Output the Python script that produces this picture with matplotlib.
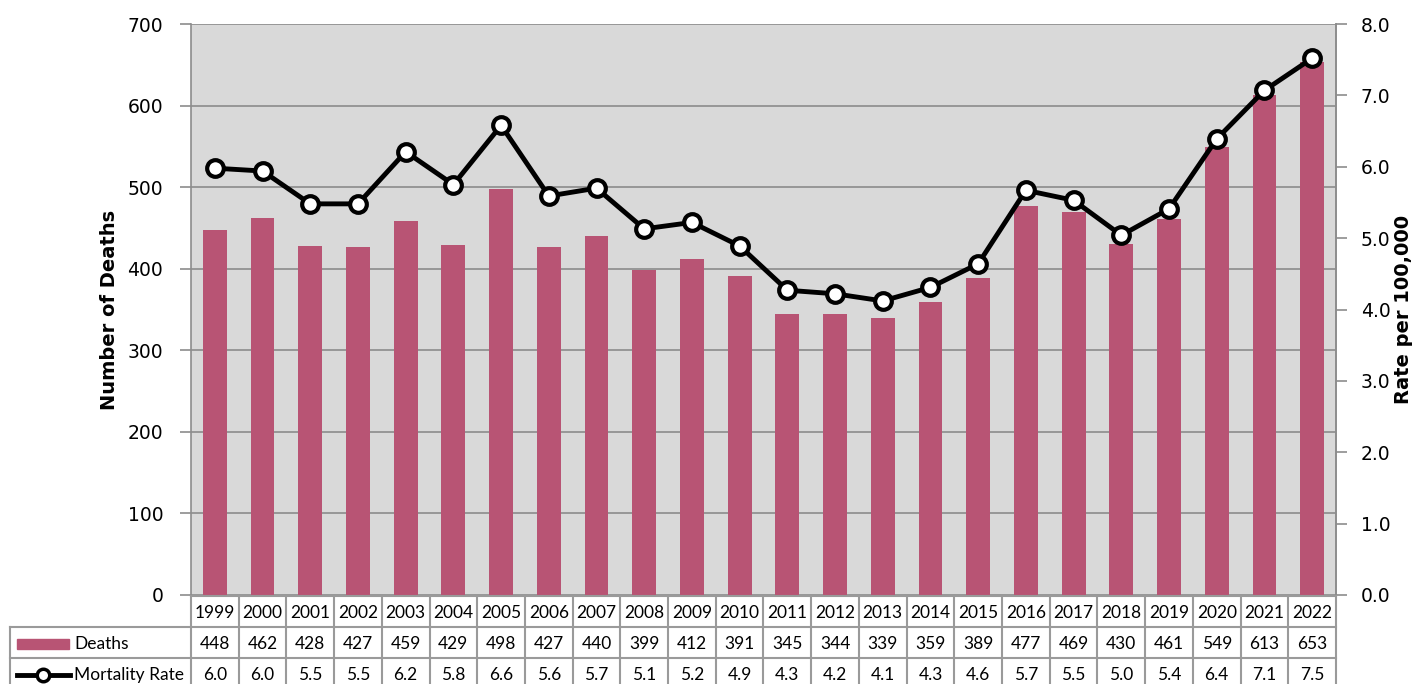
import matplotlib.pyplot as plt
from matplotlib.patches import Rectangle
from matplotlib.lines import Line2D

years = list(range(1999, 2023))
deaths = [448, 462, 428, 427, 459, 429, 498, 427, 440, 399, 412, 391,
          345, 344, 339, 359, 389, 477, 469, 430, 461, 549, 613, 653]
# plotted rates (unrounded)
rates = [5.98, 5.94, 5.48, 5.48, 6.21, 5.75, 6.58, 5.59, 5.70, 5.13, 5.22, 4.89,
         4.27, 4.22, 4.12, 4.31, 4.64, 5.67, 5.53, 5.04, 5.41, 6.39, 7.07, 7.52]
# rounded rates shown in the table
rate_labels = ["6.0", "6.0", "5.5", "5.5", "6.2", "5.8", "6.6", "5.6", "5.7", "5.1", "5.2", "4.9",
               "4.3", "4.2", "4.1", "4.3", "4.6", "5.7", "5.5", "5.0", "5.4", "6.4", "7.1", "7.5"]

bar_color = "#b85474"
grid_color = "#8c8c8c"
tick_font = "DejaVu Sans"
table_font = "Lato"

W, H = 1420, 684
fig = plt.figure(figsize=(14.2, 6.84), dpi=100)

x0, x1 = 191, 1336
y_top, y_bot = 24, 595
ax = fig.add_axes([x0 / W, 1 - y_bot / H, (x1 - x0) / W, (y_bot - y_top) / H])
ax.set_facecolor("#d9d9d9")
x = list(range(len(years)))
ax.bar(x, deaths, width=0.5, color=bar_color, zorder=2)
ax.set_xlim(-0.5, len(years) - 0.5)
ax.set_ylim(0, 700)
ax.set_yticks(range(0, 701, 100))
ax.yaxis.grid(True, color=grid_color, lw=1.2, zorder=1)
ax.set_axisbelow(True)
ax.set_xticks([])
for s in ["top", "bottom"]:
    ax.spines[s].set_visible(False)
ax.spines["left"].set_color(grid_color)
ax.spines["right"].set_color(grid_color)
ax.spines["left"].set_linewidth(1.2)
ax.spines["right"].set_linewidth(1.2)
ax.tick_params(axis="y", length=8, color=grid_color, width=1.2, labelsize=13.5, pad=12)
for t in ax.get_yticklabels():
    t.set_fontfamily(tick_font)
ax.set_ylabel("Number of Deaths", fontsize=14, fontweight="bold", family=tick_font, labelpad=6)

ax2 = ax.twinx()
ax2.plot(x, rates, color="black", lw=3.5, marker="o", markersize=12,
         markerfacecolor="white", markeredgecolor="black", markeredgewidth=3, zorder=5)
ax2.set_ylim(0, 8)
ax2.set_yticks([i for i in range(9)])
ax2.set_yticklabels([f"{i:.1f}" for i in range(9)])
for s in ["top", "bottom", "left"]:
    ax2.spines[s].set_visible(False)
ax2.spines["right"].set_color(grid_color)
ax2.spines["right"].set_linewidth(1.2)
ax2.tick_params(axis="y", length=8, color=grid_color, width=1.2, labelsize=13.5, pad=10)
for t in ax2.get_yticklabels():
    t.set_fontfamily(tick_font)
ax2.set_ylabel("Rate per 100,000", fontsize=14, fontweight="bold", family=tick_font, labelpad=2)

# data table below the plot
label_cols = (x0 - 10) / ((x1 - x0) / len(years))
row_h = 31
t_top = 596
t_bot = t_top + 3 * row_h
tab = fig.add_axes([10 / W, 1 - t_bot / H, (x1 - 10) / W, (t_bot - t_top) / H])
tab.set_xlim(-0.5 - label_cols, len(years) - 0.5)
tab.set_ylim(3, 0)
tab.axis("off")
line_kw = dict(color="#9a9a9a", lw=1.5, clip_on=False)
left = -0.5 - label_cols
right = len(years) - 0.5
# horizontal lines
tab.plot([-0.5, right], [0, 0], **line_kw)
tab.plot([left, right], [1, 1], **line_kw)
tab.plot([left, right], [2, 2], **line_kw)
tab.plot([left, right], [3, 3], **line_kw)
# vertical lines
for i in range(len(years) + 1):
    tab.plot([i - 0.5, i - 0.5], [0, 3], **line_kw)
tab.plot([left, left], [1, 3], **line_kw)

fs = 12.5
for i, yr in enumerate(years):
    tab.text(i, 0.55, str(yr), ha="center", va="center", fontsize=fs, family=table_font)
    tab.text(i, 1.55, str(deaths[i]), ha="center", va="center", fontsize=fs, family=table_font)
    tab.text(i, 2.55, rate_labels[i], ha="center", va="center", fontsize=fs, family=table_font)

tab.add_patch(Rectangle((left + 0.15, 1.38), 1.08, 0.33, color=bar_color, clip_on=False))
tab.text(left + 1.35, 1.55, "Deaths", ha="left", va="center", fontsize=fs, family=table_font)
tab.add_line(Line2D([left + 0.15, left + 1.25], [2.55, 2.55], color="black", lw=3.5, clip_on=False))
tab.plot([left + 0.7], [2.55], marker="o", markersize=9, markerfacecolor="white",
         markeredgecolor="black", markeredgewidth=2.5, clip_on=False)
tab.text(left + 1.35, 2.55, "Mortality Rate", ha="left", va="center", fontsize=fs, family=table_font)

fig.savefig("out.png", dpi=100)
